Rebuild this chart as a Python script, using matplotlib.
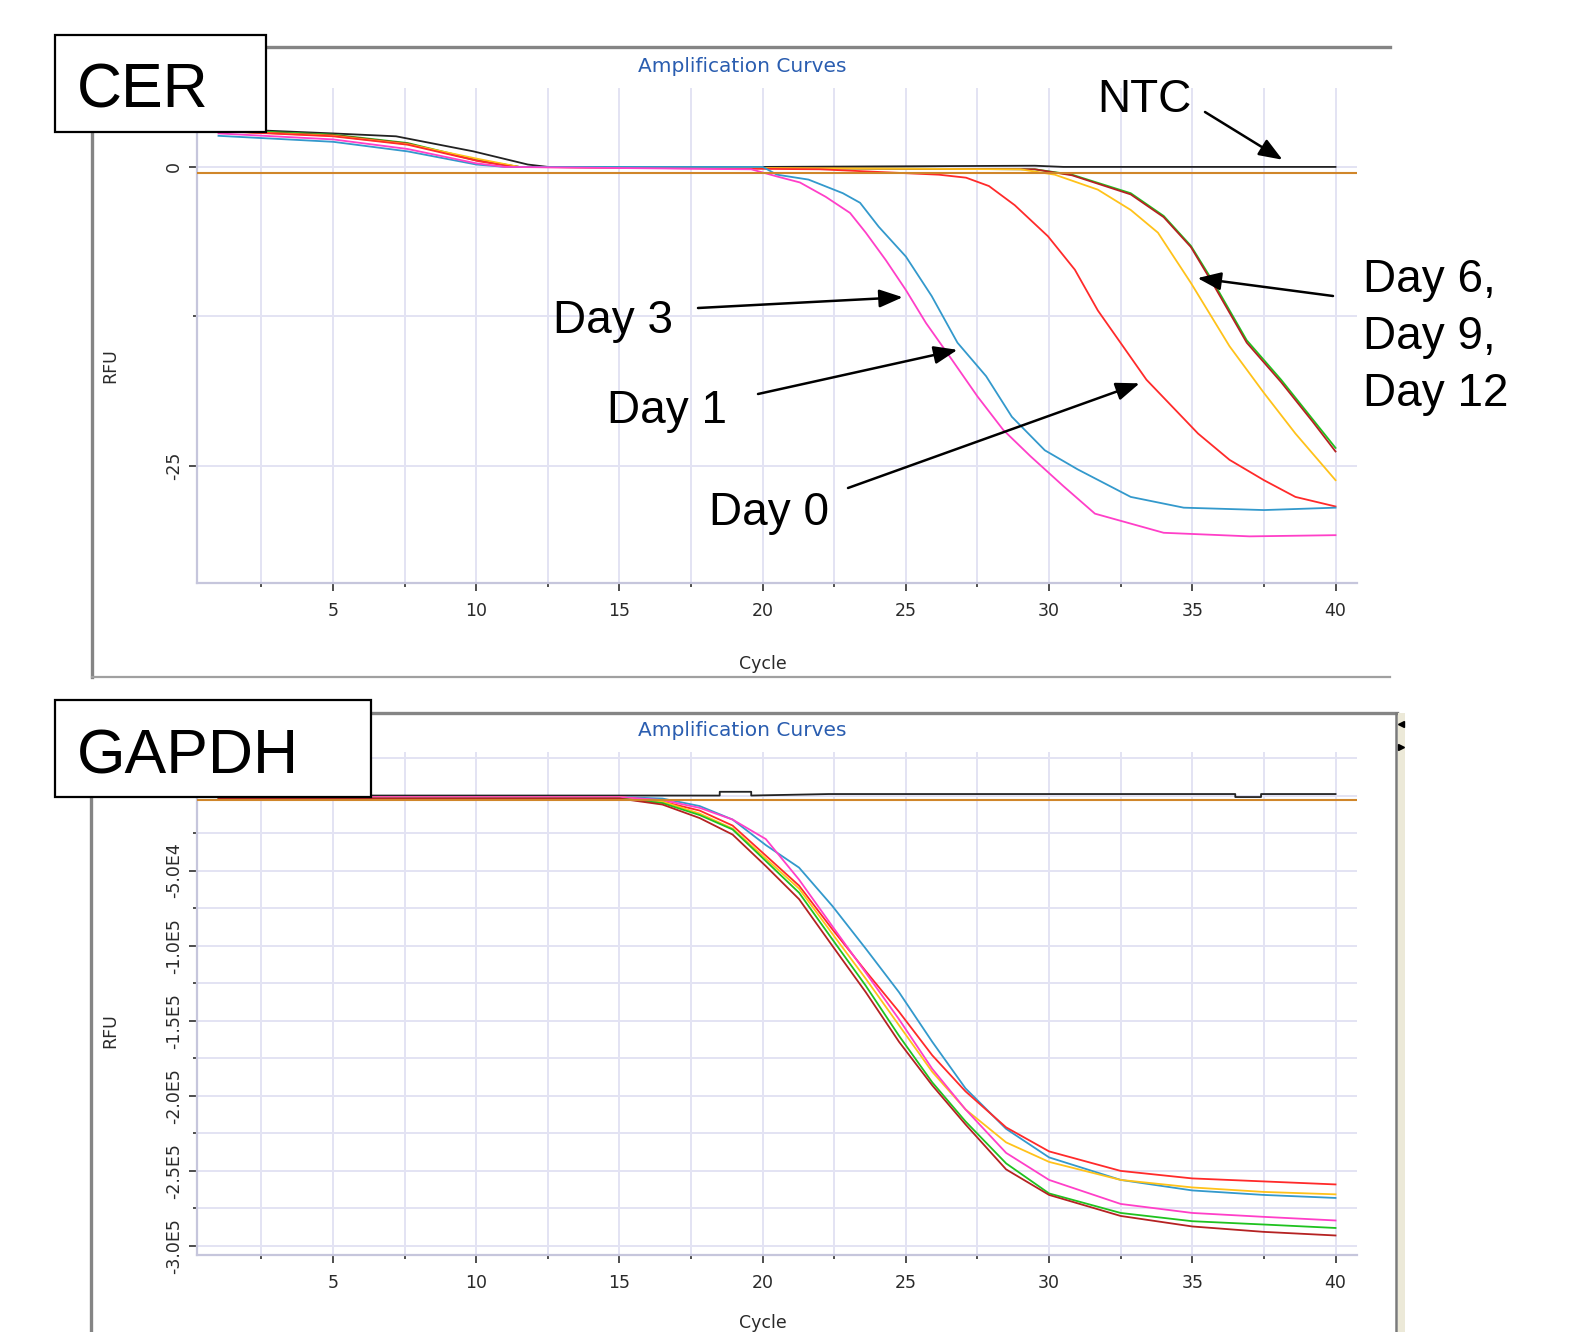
"""Two qPCR amplification-curve panels (CER and GAPDH), stacked."""

import matplotlib

matplotlib.use("Agg")

import matplotlib.pyplot as plt                      # noqa: E402
from matplotlib.lines import Line2D                  # noqa: E402
from matplotlib.patches import Rectangle             # noqa: E402
from matplotlib.ticker import (FixedFormatter,       # noqa: E402
                               FixedLocator, MultipleLocator)

W, H = 1572, 1332

# ---- CER panel (RFU) ----
cer_ntc_x = [1, 5, 7.2, 9.9, 11.8, 12.5, 20, 29.5, 30.5, 40]
cer_ntc_y = [3.2, 2.8, 2.56, 1.3, 0.2, 0, 0, 0.1, 0, 0]

cer_day1_x = [1, 5, 7.6, 10, 11, 20, 20.5, 21.6, 22.8, 23.4, 24.05, 25.0, 25.9,
              26.8, 27.8, 28.7, 29.85, 31.0, 32.85, 34.7, 37.5, 40]
cer_day1_y = [2.6, 2.1, 1.3, 0.2, 0, 0, -0.65, -1.06, -2.2, -3.0, -5.0, -7.5, -10.8,
              -14.7, -17.5, -20.9, -23.7, -25.3, -27.6, -28.5, -28.7, -28.5]

cer_day3_x = [1, 5, 7.6, 10, 11, 19.6, 20.5, 21.3, 22.2, 23.05, 23.6, 24.3, 25.0,
              25.7, 26.6, 27.5, 28.4, 29.35, 30.5, 31.6, 34.0, 37, 40]
cer_day3_y = [2.8, 2.3, 1.5, 0.3, 0, -0.2, -0.8, -1.3, -2.5, -3.85, -5.5, -7.8, -10.3,
              -13.05, -16.1, -19.2, -22.0, -24.2, -26.7, -29.0, -30.6, -30.9, -30.8]

cer_day0_x = [1, 5, 7.6, 10.1, 11.3, 22, 26.15, 27.1, 27.9, 28.8, 29.96, 30.9, 31.7,
              33.4, 35.2, 36.3, 37.5, 38.6, 40]
cer_day0_y = [3.0, 2.56, 1.86, 0.47, 0, -0.2, -0.65, -0.9, -1.6, -3.2, -5.8, -8.6, -12.0,
              -17.8, -22.3, -24.5, -26.2, -27.6, -28.4]

cer_yellow_x = [1, 5, 7.6, 10, 11.5, 29, 30.2, 31.7, 32.85, 33.8, 34.95, 36.3, 37.5,
                38.6, 40]
cer_yellow_y = [3.0, 2.6, 1.9, 0.7, 0, -0.2, -0.65, -1.9, -3.6, -5.5, -9.7, -15.0, -18.9,
                -22.3, -26.2]

cer_green_x = [1, 5, 7.6, 10, 11.5, 29.5, 30.8, 32.85, 34.0, 34.95, 35.75, 36.9, 38.1,
               39.2, 40]
cer_green_y = [3.1, 2.7, 2.0, 0.6, 0, -0.2, -0.65, -2.2, -4.1, -6.6, -9.7, -14.5, -17.8,
               -21.1, -23.5]

cer_dkred_x = [1, 5, 7.6, 10, 11.5, 29.5, 30.8, 32.85, 34.0, 34.95, 35.75, 36.9, 38.1,
               39.2, 40]
cer_dkred_y = [3.0, 2.65, 1.95, 0.55, 0, -0.2, -0.7, -2.3, -4.2, -6.7, -9.9, -14.7, -18.0,
               -21.3, -23.8]

cer_threshold = -0.5

# ---- GAPDH panel (RFU, thousands) ----
gap_ntc_x = [1, 18.5, 18.5, 19.6, 19.6, 22.3, 36.5, 36.5, 37.4, 37.4, 40]
gap_ntc_y = [0, 0, 2.5, 2.5, 0, 1, 1, -1, -1, 1, 1]

gap_x = [1, 15, 16.5, 17.8, 18.95, 20.11, 21.27, 22.43, 23.6, 24.76, 25.92, 27.08,
         28.5, 30, 32.5, 35, 37.5, 40]
gap_day1_y = [-1, -1, -2, -7, -16, -33, -48, -73.5, -102, -131, -164, -195,
              -222, -241, -256, -263, -266, -268]
gap_day3_y = [-1, -1, -3, -8.2, -16, -29, -56, -87, -118, -149, -182, -209,
              -238, -256, -272, -278, -280.6, -283]
gap_day0_y = [-1, -1, -4, -10, -20, -40, -60, -89, -117, -144, -173, -197,
              -221, -237, -250, -255, -257, -259]
gap_yellow_y = [-1, -1, -4, -12, -22, -42, -62, -92, -122, -153, -184, -209,
                -231, -244, -256, -261, -264, -265.6]
gap_green_y = [-2, -2, -5, -13, -22.6, -43.6, -64.7, -95.7, -126.7, -160, -191, -217,
               -245, -265, -278, -283.5, -285.7, -288]
gap_dkred_y = [-2, -2, -6, -15, -26, -47, -69, -100, -131, -164, -193, -219,
               -249, -266, -280, -287, -290.6, -293]
gap_threshold = -3.2

COL = {
    "ntc": "#222222",
    "day0": "#ff2a2a",
    "day1": "#3399cc",
    "day3": "#ff3fc8",
    "yellow": "#ffc21a",
    "green": "#1fc21f",
    "dkred": "#b52222",
    "thr": "#d0862a",
}

cer_series = [
    (cer_ntc_x, cer_ntc_y, "ntc"),
    (cer_green_x, cer_green_y, "green"),
    (cer_dkred_x, cer_dkred_y, "dkred"),
    (cer_yellow_x, cer_yellow_y, "yellow"),
    (cer_day0_x, cer_day0_y, "day0"),
    (cer_day1_x, cer_day1_y, "day1"),
    (cer_day3_x, cer_day3_y, "day3"),
]
gap_series = [
    (gap_ntc_x, gap_ntc_y, "ntc"),
    (gap_x, gap_day1_y, "day1"),
    (gap_x, gap_day0_y, "day0"),
    (gap_x, gap_yellow_y, "yellow"),
    (gap_x, gap_day3_y, "day3"),
    (gap_x, gap_green_y, "green"),
    (gap_x, gap_dkred_y, "dkred"),
]

x_ticks = [5, 10, 15, 20, 25, 30, 35, 40]
cer_yticks = [0, -25]
cer_ylabels = ["0", "-25"]
gap_yticks = [-50000, -100000, -150000, -200000, -250000, -300000]
gap_ylabels = ["-5.0E4", "-1.0E5", "-1.5E5", "-2.0E5", "-2.5E5", "-3.0E5"]

# annotations on the CER panel: label, text anchor (px), arrow start (px), arrow tip (data)
notes = [
    ("NTC", (1097, 112), (1205, 112), (38.15, 0.6)),
    ("Day 3", (553, 333), (698, 308), (24.89, -10.9)),
    ("Day 1", (607, 423), (758, 394), (26.8, -15.3)),
    ("Day 0", (709, 525), (848, 488), (33.16, -18.1)),
    ("Day 6,\nDay 9,\nDay 12", (1363, 292), (1333, 296), (35.18, -9.3)),
]


def fx(x):
    return x / W


def fy(y):
    return 1 - y / H


def frame_line(fig, xs, ys, color="#858585", lw=2.2):
    fig.add_artist(Line2D([fx(v) for v in xs], [fy(v) for v in ys],
                          transform=fig.transFigure, color=color, lw=lw, zorder=1))


def style_axes(ax, xlim, ylim):
    ax.set_xlim(*xlim)
    ax.set_ylim(*ylim)
    for s in ("top", "right"):
        ax.spines[s].set_visible(False)
    for s in ("left", "bottom"):
        ax.spines[s].set_color("#c6c6dc")
        ax.spines[s].set_linewidth(1.6)
    ax.xaxis.set_major_locator(FixedLocator(x_ticks))
    ax.xaxis.set_minor_locator(MultipleLocator(2.5))
    ax.grid(which="both", color="#e3e3f3", lw=1.4, zorder=0)
    ax.set_axisbelow(True)
    ax.tick_params(which="both", direction="out", color="#303030", width=1.2,
                   labelsize=12.5, labelcolor="#2a2a2a")
    ax.tick_params(which="major", length=6)
    ax.tick_params(which="minor", length=3)
    ax.tick_params(axis="x", pad=8)
    ax.tick_params(axis="y", labelrotation=90, pad=4)


fig = plt.figure(figsize=(W / 100, H / 100), dpi=100)
fig.patch.set_facecolor("white")

ax1 = fig.add_axes([fx(197), fy(583), fx(1357) - fx(197), fy(88) - fy(583)])
ax2 = fig.add_axes([fx(197), fy(1255), fx(1357) - fx(197), fy(752) - fy(1255)])

# ---- top panel ----
style_axes(ax1, (0.25, 40.75), (-34.8, 6.6))
ax1.yaxis.set_major_locator(FixedLocator(cer_yticks))
ax1.yaxis.set_major_formatter(FixedFormatter(cer_ylabels))
ax1.yaxis.set_minor_locator(MultipleLocator(12.5))
for xs, ys, key in cer_series:
    ax1.plot(xs, ys, color=COL[key], lw=1.3, zorder=3)
ax1.axhline(cer_threshold, color=COL["thr"], lw=1.5, zorder=4)
ax1.set_xlabel("Cycle", fontsize=12.5, color="#2a2a2a")
ax1.xaxis.set_label_coords(0.488, -0.145)
ax1.set_ylabel("RFU", fontsize=12.5, color="#2a2a2a")
ax1.yaxis.set_label_coords(-0.067, 0.44)

# ---- bottom panel ----
style_axes(ax2, (0.25, 40.75), (-306000, 29000))
ax2.yaxis.set_major_locator(FixedLocator(gap_yticks))
ax2.yaxis.set_major_formatter(FixedFormatter(gap_ylabels))
ax2.yaxis.set_minor_locator(MultipleLocator(25000))
for xs, ys, key in gap_series:
    ax2.plot(xs, [v * 1000 for v in ys], color=COL[key], lw=1.3, zorder=3)
ax2.axhline(gap_threshold * 1000, color=COL["thr"], lw=1.5, zorder=4)
ax2.set_xlabel("Cycle", fontsize=12.5, color="#2a2a2a")
ax2.xaxis.set_label_coords(0.488, -0.118)
ax2.set_ylabel("RFU", fontsize=12.5, color="#2a2a2a")
ax2.yaxis.set_label_coords(-0.067, 0.447)

for ax in (ax1, ax2):
    for lab in ax.get_yticklabels():
        lab.set_va("center")

# window frames
frame_line(fig, [92, 1390], [47, 47], lw=2.4)
frame_line(fig, [92, 92], [47, 677], lw=2.4)
frame_line(fig, [92, 1390], [677, 677], color="#a0a0a0", lw=1.6)
frame_line(fig, [92, 1397], [713, 713], lw=2.4)
frame_line(fig, [91, 91], [713, 1332], lw=2.4)
frame_line(fig, [1396, 1396], [713, 1332], color="#7a7a7a", lw=1.8)
fig.add_artist(Rectangle((fx(1398), fy(1332)), fx(1405) - fx(1398), fy(713) - fy(1332),
                         transform=fig.transFigure, facecolor="#ece9d8",
                         edgecolor="none", zorder=1))
fig.add_artist(Line2D([fx(1401)], [fy(724)], transform=fig.transFigure, marker="<",
                      color="black", ms=5, ls="none", zorder=2))
fig.add_artist(Line2D([fx(1401)], [fy(747)], transform=fig.transFigure, marker=">",
                      color="black", ms=5, ls="none", zorder=2))

# chart titles
for ty in (66, 730):
    fig.text(fx(742), fy(ty), "Amplification Curves", color="#2a5db0",
             fontsize=14.5, ha="center", va="center")

# panel label boxes
for name, (x0, y0, x1, y1), base in [("CER", (55, 35, 266, 132), 108),
                                     ("GAPDH", (55, 700, 371, 797), 773)]:
    fig.add_artist(Rectangle((fx(x0), fy(y1)), fx(x1) - fx(x0), fy(y0) - fy(y1),
                             transform=fig.transFigure, facecolor="white",
                             edgecolor="black", lw=1.6, zorder=10))
    fig.text(fx(77), fy(base), name, fontsize=45, family="Liberation Sans",
             ha="left", va="baseline", zorder=11)

# annotations
for label, (tx, ty), (sx, sy), tip in notes:
    for i, line in enumerate(label.split("\n")):
        fig.text(fx(tx), fy(ty + 57 * i), line, fontsize=33, family="Liberation Sans",
                 ha="left", va="baseline", zorder=11)
    ax1.annotate("", xy=tip, xycoords="data", xytext=(fx(sx), fy(sy)),
                 textcoords="figure fraction", annotation_clip=False, zorder=12,
                 arrowprops=dict(arrowstyle="-|>,head_length=1.3,head_width=0.5",
                                 mutation_scale=11, color="black", lw=1.8,
                                 shrinkA=0, shrinkB=0))

fig.savefig("out.png", dpi=100)
plt.close(fig)
